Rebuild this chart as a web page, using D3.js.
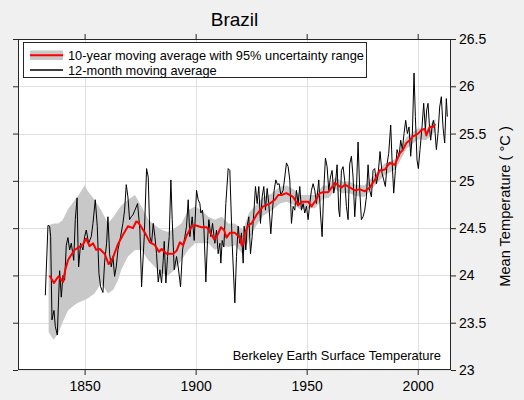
<!DOCTYPE html>
<html><head><meta charset="utf-8">
<script src="https://cdn.jsdelivr.net/npm/d3@7"></script>
<style>
html,body{margin:0;padding:0;background:#f0f0f0;}
svg{display:block;font-family:"Liberation Sans",Arial,sans-serif;}
</style></head>
<body>
<svg id="chart" width="524" height="400"></svg>
<script>
// ---- data ----
const title = "Brazil";
const xTicks = [1850, 1900, 1950, 2000];
const yTicks = [23, 23.5, 24, 24.5, 25, 25.5, 26, 26.5];
const yTickLabels = ["23", "23.5", "24", "24.5", "25", "25.5", "26", "26.5"];
const legendLabels = ["10-year moving average with 95% uncertainty range", "12-month moving average"];
const yLabel = "Mean Temperature ( \u00B0C )";
const sourceNote = "Berkeley Earth Surface Temperature";

// 12-month moving average (year, °C)
const monthlyYears = [1832.3,1833.5,1834.25,1834.7,1835.3,1836.2,1836.8,1837.7,1838.75,1839.5,1840.25,1841.0,1841.75,1842.5,1843.25,1844.0,1845.1,1845.8,1846.6,1847.0,1847.3,1848.2,1849.25,1850.0,1850.75,1851.8,1853.0,1853.75,1854.8,1855.7,1856.45,1857.2,1858.25,1859.0,1859.9,1860.5,1861.25,1862.0,1862.75,1863.5,1864.25,1865.0,1866.2,1867.25,1868.0,1868.75,1869.5,1870.25,1871.0,1871.75,1872.65,1873.85,1874.9,1875.65,1876.85,1877.9,1878.65,1879.4,1880.15,1880.9,1881.65,1882.4,1883.15,1883.9,1884.65,1885.4,1885.85,1886.6,1887.35,1888.1,1888.85,1889.45,1890.35,1891.4,1892.15,1893.2,1894.1,1895.15,1895.9,1896.65,1897.4,1898.45,1899.35,1900.4,1901.15,1901.9,1902.35,1903.1,1903.7,1904.6,1905.35,1905.95,1906.85,1907.6,1908.65,1909.4,1910.15,1910.9,1911.35,1911.95,1912.7,1913.6,1914.65,1915.4,1916.45,1917.65,1918.4,1919.15,1919.9,1920.65,1921.4,1921.85,1922.6,1923.2,1923.95,1924.7,1925.45,1926.2,1926.95,1927.7,1928.45,1929.2,1929.95,1930.7,1931.45,1932.2,1932.95,1933.85,1934.6,1935.35,1936.1,1936.85,1937.6,1938.35,1939.4,1940.15,1940.9,1941.65,1942.4,1943.15,1943.9,1944.65,1945.4,1946.15,1946.9,1947.65,1948.4,1949.15,1949.9,1950.65,1951.4,1952.15,1952.9,1953.65,1954.4,1955.45,1956.2,1956.95,1957.7,1958.45,1959.2,1959.95,1960.7,1961.45,1962.2,1962.95,1963.7,1964.45,1964.9,1965.65,1966.4,1967.15,1967.9,1968.65,1969.4,1970.15,1970.9,1971.65,1972.4,1973.15,1973.9,1974.65,1975.4,1976.15,1976.9,1977.65,1978.4,1979.15,1979.9,1980.65,1981.4,1982.15,1983.05,1983.95,1984.7,1985.45,1986.2,1986.95,1987.85,1988.45,1989.2,1989.95,1990.7,1991.6,1992.35,1993.1,1993.85,1994.6,1995.35,1996.1,1996.85,1997.6,1998.35,1998.95,1999.7,2000.3,2001.05,2001.95,2002.7,2003.45,2004.05,2004.65,2005.4,2005.85,2006.45,2007.05,2007.65,2008.4,2009.15,2009.9,2010.65,2011.4,2012.15,2012.9,2013.35];
const monthlyTemps = [23.79,24.53,24.52,24.41,23.53,23.63,23.46,23.37,24.05,23.77,24.00,23.95,24.32,24.40,24.27,24.34,24.16,24.59,24.82,24.34,24.09,24.34,24.27,24.41,24.48,24.34,24.41,24.55,24.80,24.52,24.02,23.88,23.82,24.14,24.34,24.62,24.23,24.09,24.20,23.99,24.09,24.27,24.41,24.55,24.69,24.96,24.83,24.59,24.62,24.64,24.69,24.76,24.48,23.88,24.41,25.13,25.04,24.41,24.34,24.55,24.41,24.23,23.93,24.06,23.92,24.16,24.36,23.92,24.20,24.41,25.01,24.59,24.06,24.20,24.09,23.88,24.27,24.41,24.52,24.80,24.41,24.62,24.37,24.90,24.80,24.76,24.66,24.69,24.52,23.93,24.37,24.59,24.41,24.55,24.34,24.48,24.23,24.34,24.13,24.37,24.30,24.76,25.13,25.11,24.34,23.71,24.20,24.52,24.34,24.45,24.13,24.52,24.27,24.52,24.62,24.23,24.41,24.66,24.94,24.76,24.94,24.55,24.83,24.94,24.69,24.92,24.76,24.44,24.69,24.90,25.01,24.96,24.97,24.85,24.90,25.04,25.19,25.15,25.01,24.55,24.73,24.69,24.90,24.76,24.94,24.69,24.76,24.66,24.73,24.59,24.76,24.90,24.97,24.90,24.76,25.01,24.66,24.41,24.90,25.24,25.15,24.90,25.04,25.11,24.87,24.97,25.17,24.69,24.62,25.11,25.15,25.00,24.73,24.59,25.18,25.26,25.04,24.62,24.90,25.41,24.90,24.59,24.62,24.69,24.83,25.17,24.90,24.83,25.11,25.13,24.97,25.06,25.31,25.08,25.01,24.94,25.18,25.29,25.59,25.22,24.87,25.11,25.33,25.26,25.43,25.33,25.50,25.64,25.50,25.57,25.26,25.50,26.14,25.68,25.22,25.13,25.33,25.57,25.82,25.54,25.75,25.82,25.54,25.43,25.57,25.64,25.57,25.33,25.50,25.78,25.89,25.57,25.40,25.87,25.68];

// 10-year moving average (year, °C)
const decadalYears = [1834.2,1835.2,1836.2,1837.3,1838.3,1839.3,1840.3,1841.3,1842.5,1843.5,1845.5,1847.5,1849.3,1850.7,1852.2,1853.8,1855.2,1856.8,1859.0,1860.8,1862.8,1865.0,1867.3,1869.5,1871.8,1873.2,1874.2,1877.2,1879.4,1881.7,1883.5,1884.7,1886.9,1889.9,1891.4,1892.9,1894.4,1895.9,1898.2,1899.7,1902.7,1905.0,1906.4,1908.4,1909.9,1911.4,1912.8,1913.9,1915.4,1917.7,1919.9,1920.7,1921.4,1922.2,1923.7,1925.2,1927.4,1930.4,1933.4,1935.7,1937.2,1938.7,1940.9,1943.9,1946.2,1947.7,1950.7,1952.2,1953.7,1955.9,1957.4,1959.7,1961.9,1962.7,1964.2,1965.7,1967.2,1969.4,1971.7,1973.9,1976.2,1978.4,1980.7,1982.9,1985.2,1987.4,1989.7,1991.9,1993.4,1994.9,1996.4,1997.9,2000.2,2001.7,2003.2,2003.9,2005.4,2006.9,2008.0];
const decadalTemps = [24.00,23.96,23.92,23.96,23.99,23.96,23.93,24.06,24.16,24.20,24.27,24.30,24.33,24.39,24.31,24.34,24.27,24.28,24.23,24.12,24.19,24.33,24.43,24.52,24.50,24.57,24.56,24.45,24.35,24.32,24.25,24.28,24.23,24.23,24.26,24.35,24.32,24.42,24.52,24.53,24.51,24.51,24.46,24.38,24.43,24.51,24.48,24.40,24.45,24.45,24.40,24.32,24.33,24.45,24.53,24.55,24.64,24.73,24.76,24.80,24.85,24.85,24.87,24.83,24.74,24.78,24.78,24.73,24.78,24.87,24.88,24.88,24.95,24.98,24.95,24.93,24.96,24.93,24.90,24.91,24.89,24.93,25.01,25.11,25.12,25.19,25.17,25.29,25.33,25.40,25.43,25.47,25.50,25.54,25.55,25.48,25.57,25.57,25.60];

// 95% uncertainty range of the 10-year average
const bandYears = [1833.8,1836,1838,1840,1842.5,1845,1847,1850,1851.5,1854.5,1857.5,1860.5,1863,1865,1866.5,1869.5,1872.7,1875.6,1878.7,1881.7,1884.7,1887.6,1890.6,1893.6,1896.6,1899.7,1902.7,1905.7,1908.7,1911.7,1914.7,1917.7,1921.4,1924,1927.4,1930.4,1934,1938,1941,1944,1947,1950.7,1953.7,1957.4,1960,1963,1966,1969.4,1972,1976,1980.7,1985,1990,1994.9,2000.2,2003.9,2008];
const bandLow = [23.40,23.32,23.38,23.50,23.63,23.68,23.71,23.74,23.76,23.81,23.92,23.81,23.85,23.95,24.06,24.20,24.27,24.27,24.16,24.09,24.02,24.00,24.06,24.16,24.27,24.34,24.34,24.34,24.27,24.32,24.30,24.32,24.22,24.38,24.53,24.63,24.68,24.76,24.78,24.75,24.70,24.71,24.71,24.81,24.82,24.91,24.87,24.87,24.84,24.83,24.95,25.06,25.12,25.34,25.44,25.43,25.53];
const bandHigh = [24.53,24.55,24.55,24.58,24.70,24.78,24.84,24.95,24.89,24.80,24.69,24.55,24.62,24.69,24.74,24.80,24.85,24.73,24.59,24.53,24.48,24.46,24.50,24.55,24.69,24.73,24.69,24.62,24.59,24.62,24.55,24.55,24.48,24.66,24.75,24.83,24.86,24.94,24.95,24.91,24.85,24.85,24.85,24.95,24.95,25.04,24.99,24.99,24.96,24.95,25.07,25.18,25.23,25.46,25.56,25.54,25.66];

// ---- drawing ----
const W = 524, H = 400;
const plot = {left: 18, right: 451, top: 39, bottom: 370};
const svg = d3.select("#chart");

const x = d3.scaleLinear().domain([1820, 2015]).range([plot.left, plot.right]);
const y = d3.scaleLinear().domain([23, 26.5]).range([plot.bottom, plot.top]);

// plot background
svg.append("rect").attr("x", plot.left).attr("y", plot.top)
  .attr("width", plot.right - plot.left).attr("height", plot.bottom - plot.top)
  .attr("fill", "#ffffff");

// grid
const grid = svg.append("g").attr("stroke", "#e0e0e0").attr("stroke-width", 1);
xTicks.forEach(t => grid.append("line")
  .attr("x1", Math.round(x(t)) + 0.5).attr("x2", Math.round(x(t)) + 0.5)
  .attr("y1", plot.top).attr("y2", plot.bottom));
yTicks.forEach(t => grid.append("line")
  .attr("x1", plot.left).attr("x2", plot.right)
  .attr("y1", Math.round(y(t)) + 0.5).attr("y2", Math.round(y(t)) + 0.5));

// band
const band = bandYears.map((yr, i) => ({yr, lo: bandLow[i], hi: bandHigh[i]}));
svg.append("path").datum(band)
  .attr("fill", "#c8c8c8").attr("stroke", "none")
  .attr("d", d3.area().x(d => x(d.yr)).y0(d => y(d.lo)).y1(d => y(d.hi)));

// 12-month line
const monthly = monthlyYears.map((yr, i) => ({yr, v: monthlyTemps[i]}));
svg.append("path").datum(monthly)
  .attr("fill", "none").attr("stroke", "#000").attr("stroke-width", 1)
  .attr("stroke-linejoin", "round")
  .attr("d", d3.line().x(d => x(d.yr)).y(d => y(d.v)));

// 10-year line
const decadal = decadalYears.map((yr, i) => ({yr, v: decadalTemps[i]}));
svg.append("path").datum(decadal)
  .attr("fill", "none").attr("stroke", "#ff0000").attr("stroke-width", 2)
  .attr("stroke-linejoin", "round")
  .attr("d", d3.line().x(d => x(d.yr)).y(d => y(d.v)));

// axes
const axisColor = "#262626";
function styleAxis(g) {
  g.select(".domain").remove();
  g.selectAll(".tick line").attr("stroke", axisColor);
  g.selectAll(".tick text").attr("fill", "#000").attr("font-size", 14)
    .attr("font-family", "Liberation Sans, Arial, sans-serif");
}
svg.append("g").attr("transform", `translate(0,${plot.bottom})`)
  .call(d3.axisBottom(x).tickValues(xTicks).tickFormat(d3.format("d")).tickSize(5).tickPadding(6))
  .call(styleAxis);
svg.append("g").attr("transform", `translate(0,${plot.top})`)
  .call(d3.axisTop(x).tickValues(xTicks).tickFormat("").tickSize(5))
  .call(styleAxis);
svg.append("g").attr("transform", `translate(${plot.left},0)`)
  .call(d3.axisLeft(y).tickValues(yTicks).tickFormat("").tickSize(5))
  .call(styleAxis);
svg.append("g").attr("transform", `translate(${plot.right},0)`)
  .call(d3.axisRight(y).tickValues(yTicks).tickFormat((d, i) => yTickLabels[i]).tickSize(5).tickPadding(3))
  .call(styleAxis);

// plot frame
svg.append("rect").attr("x", plot.left + 0.5).attr("y", plot.top + 0.5)
  .attr("width", plot.right - plot.left - 1).attr("height", plot.bottom - plot.top - 1)
  .attr("fill", "none").attr("stroke", axisColor).attr("stroke-width", 1);

// title
svg.append("text").attr("x", 234.5).attr("y", 26)
  .attr("text-anchor", "middle").attr("font-size", 19).text(title);

// y label
svg.append("text")
  .attr("transform", `translate(509.5,206.5) rotate(-90)`)
  .attr("text-anchor", "middle").attr("font-size", 14.6).text(yLabel);

// source note
svg.append("text").attr("x", 441).attr("y", 360)
  .attr("text-anchor", "end").attr("font-size", 12.9).text(sourceNote);

// legend
const lg = svg.append("g");
lg.append("rect").attr("x", 23.5).attr("y", 42.5).attr("width", 343).attr("height", 35)
  .attr("fill", "#fff").attr("stroke", axisColor).attr("stroke-width", 1);
lg.append("rect").attr("x", 30).attr("y", 50.5).attr("width", 33).attr("height", 9.5).attr("fill", "#c8c8c8");
lg.append("line").attr("x1", 30).attr("x2", 63).attr("y1", 55.2).attr("y2", 55.2)
  .attr("stroke", "#ff0000").attr("stroke-width", 2);
lg.append("line").attr("x1", 30).attr("x2", 63).attr("y1", 70).attr("y2", 70)
  .attr("stroke", "#000").attr("stroke-width", 1.5);
lg.append("text").attr("x", 68).attr("y", 59.8).attr("font-size", 12.8).text(legendLabels[0]);
lg.append("text").attr("x", 68).attr("y", 74.8).attr("font-size", 12.8).text(legendLabels[1]);
</script>
</body></html>
